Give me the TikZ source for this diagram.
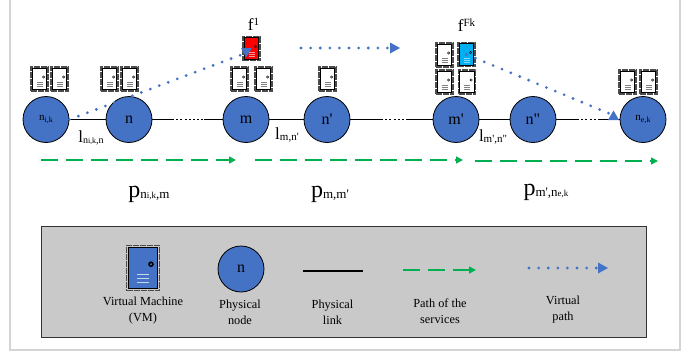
\documentclass[tikz,border=0pt]{standalone}
\usepackage{fontspec}
\setmainfont[Ligatures=TeXOff]{Liberation Serif}
\usetikzlibrary{arrows.meta}
\definecolor{nodeblue}{HTML}{4472C4}
\definecolor{pathgreen}{HTML}{00B050}
\definecolor{vmcyan}{HTML}{00B0F0}
\definecolor{legendgray}{HTML}{C9C9C9}
\definecolor{framegray}{HTML}{D4D4D4}
\newcommand{\smalltxt}[2]{{\fontsize{#1}{#1}\selectfont #2}}
\newcommand{\lowtxt}[2]{\raisebox{-.3ex}{\fontsize{#1}{#1}\selectfont #2}}
\tikzset{
	pnode/.style={circle, draw=black, fill=nodeblue, line width=.8pt, minimum size=46pt, inner sep=0pt},
	plink/.style={line width=1.2pt},
	pdots/.style={line width=1.2pt, dash pattern=on 2pt off 2.2pt},
	spath/.style={pathgreen, line width=1.6pt, dash pattern=on 16.5pt off 8.5pt, -{Triangle[length=7pt,width=7pt]}},
	vpath/.style={nodeblue, line width=3.1pt, line cap=round, dash pattern=on 0pt off 9.6pt},
	vtip/.style={fill=nodeblue},
	vm/.style n args={3}{rectangle, draw=black!70, dash pattern=on 6pt off 1pt, line width=1.15pt, minimum width=17pt*#2, minimum height=24pt*#2, inner sep=0pt,
		path picture={
			\begin{scope}[shift={(path picture bounding box.center)}, x=#2 pt, y=-#2 pt, solid]
				\draw[black, fill=#1, line width=.9pt] (-7.4,-10.8) rectangle (7.4,10.8);
				\fill[black] (4.2,-2) circle (1.5);
				\fill[#1] (4.2,-2) circle (.6);
				\draw[#3, line width=.8pt] (-3,3.5) -- (3,3.5) (-3,5.5) -- (3,5.5) (-3,7.5) -- (3,7.5);
			\end{scope}
		}},
	lbl/.style={inner sep=0pt, align=center, font=\fontsize{12.3}{15.8}\selectfont},
}
\begin{document}
\begin{tikzpicture}[x=1pt, y=-1pt]
	\useasboundingbox (0,0) rectangle (699,356);
	% outer frame and legend
	\draw[framegray, line width=1.5pt] (10,-2) -- (10,350) -- (680,350) -- (680,-2);
	\node (legend) at (343.5,281.5) [rectangle, draw=black!80, fill=legendgray, line width=.9pt, minimum width=605pt, minimum height=111pt] {};
	% physical nodes
	\node (nik) at (46,119.5) [pnode] {\smalltxt{11}{n}\lowtxt{8}{i,k}};
	\node (n) at (129,119.5) [pnode] {\smalltxt{16}{n}};
	\node (m) at (246,119.5) [pnode] {\smalltxt{16}{m}};
	\node (np) at (327,119.5) [pnode] {\smalltxt{16}{n'}};
	\node (mp) at (456,119.5) [pnode] {\smalltxt{16}{m'}};
	\node (npp) at (533,119.5) [pnode] {\smalltxt{16}{n"}};
	\node (nek) at (643,119.5) [pnode] {\smalltxt{11}{n}\lowtxt{8}{e,k}};
	% physical links
	\coordinate (nma) at (172,119.5);
	\coordinate (nmb) at (204,119.5);
	\coordinate (npa) at (381,119.5);
	\coordinate (npb) at (407,119.5);
	\coordinate (nea) at (577,119.5);
	\coordinate (neb) at (600,119.5);
	\draw[plink] (nik) -- (n);
	\draw[plink] (n) -- (nma);
	\draw[pdots] (nma) -- (nmb);
	\draw[plink] (nmb) -- (m);
	\draw[plink] (m) -- (np);
	\draw[plink] (np) -- (npa);
	\draw[pdots] (npa) -- (npb);
	\draw[plink] (npb) -- (mp);
	\draw[plink] (mp) -- (npp);
	\draw[plink] (npp) -- (nea);
	\draw[pdots] (nea) -- (neb);
	\draw[plink] (neb) -- (nek);
	% virtual machines
	\node (vma) at (39.5,79) [vm={white}{1}{gray}] {};
	\node (vmb) at (59.5,79) [vm={white}{1}{gray}] {};
	\node (vmc) at (109.5,79) [vm={white}{1}{gray}] {};
	\node (vmd) at (129.5,79) [vm={white}{1}{gray}] {};
	\node (vme) at (239.5,79) [vm={white}{1}{gray}] {};
	\node (vmf) at (263.5,79) [vm={white}{1}{gray}] {};
	\node (vmg) at (327.5,79) [vm={white}{1}{gray}] {};
	\node (vmh) at (444.5,82) [vm={white}{1}{gray}] {};
	\node (vmi) at (467,82) [vm={white}{1}{gray}] {};
	\node (vmj) at (444.5,55) [vm={white}{1}{gray}] {};
	\node (vmk) at (466.5,54.5) [vm={vmcyan}{1}{vmcyan!50!white}] {};
	\node (vml) at (627.5,82) [vm={white}{1}{gray}] {};
	\node (vmm) at (648.5,82) [vm={white}{1}{gray}] {};
	\node (vmr) at (251.5,48.5) [vm={red}{1}{red!40!white}] {};
	% virtual paths
	\coordinate (tipa) at (246,53);
	\coordinate (tipb) at (613,115);
	\coordinate (topa) at (301,48);
	\coordinate (topb) at (400,48);
	\draw[vpath] (nik.east) -- (tipa);
	\fill[vtip] (241,48) -- (252,48) -- (246,57.5) -- cycle;
	\draw[vpath] (vmk.center) -- (tipb);
	\fill[vtip] (608,120) -- (619,120) -- (613.5,110.5) -- cycle;
	\draw[vpath] (topa) -- (390,48);
	\fill[vtip] (390,42.5) -- (390,53.5) -- (topb) -- cycle;
	% paths of the services
	\coordinate (spa) at (41,160);
	\coordinate (spb) at (236,160);
	\coordinate (spc) at (252,160);
	\coordinate (spd) at (463,160);
	\coordinate (spe) at (472,161);
	\coordinate (spf) at (658,161);
	\draw[spath] (spa) -- (spb);
	\draw[spath, dash phase=22pt] (spc) -- (spd);
	\draw[spath, dash phase=22pt] (spe) -- (spf);
	% labels
	\node (fa) at (253.5,24) [inner sep=0pt] {\smalltxt{17}{f}\raisebox{1.1ex}{\smalltxt{11}{1}}};
	\node (fb) at (466.5,25) [inner sep=0pt] {\smalltxt{17}{f}\raisebox{1.1ex}{\smalltxt{11}{Fk}}};
	\node (la) at (91,138) [inner sep=0pt] {\smalltxt{17}{l}\lowtxt{10}{n}\lowtxt{8}{i,k}\lowtxt{10}{,n}};
	\node (lb) at (287,135) [inner sep=0pt] {\smalltxt{17}{l}\lowtxt{11}{m,n'}};
	\node (lc) at (493,137) [inner sep=0pt] {\smalltxt{17}{l}\lowtxt{11}{m',n"}};
	\node (pa) at (149,194) [inner sep=0pt] {\smalltxt{24}{p}\lowtxt{13}{n}\lowtxt{9}{i,k}\lowtxt{13}{,m}};
	\node (pb) at (330,194) [inner sep=0pt] {\smalltxt{24}{p}\lowtxt{13}{m,m'}};
	\node (pc) at (546,192) [inner sep=0pt] {\smalltxt{24}{p}\lowtxt{13}{m',n}\lowtxt{9}{e,k}};
	% legend
	\node (lvm) at (143,268) [vm={nodeblue}{1.9}{nodeblue!30!white}] {};
	\node (ln) at (241,269) [pnode] {\smalltxt{16}{n}};
	\coordinate (lla) at (303,271);
	\coordinate (llb) at (363,271);
	\coordinate (lsa) at (403,270);
	\coordinate (lsb) at (476,270);
	\coordinate (lva) at (529,268);
	\coordinate (lvb) at (608,268);
	\draw[plink] (lla) -- (llb);
	\draw[spath] (lsa) -- (lsb);
	\draw[vpath] (lva) -- (598,268);
	\fill[vtip] (598,262.5) -- (598,273.5) -- (lvb) -- cycle;
	\node (tvm) at (143,310.5) [lbl] {Virtual Machine\\(VM)};
	\node (tn) at (240,312) [lbl] {Physical\\node};
	\node (tl) at (332.5,312) [lbl] {Physical\\link};
	\node (ts) at (440,311) [lbl] {Path of the\\services};
	\node (tv) at (563,309.5) [lbl] {Virtual\\path};
\end{tikzpicture}
\end{document}
